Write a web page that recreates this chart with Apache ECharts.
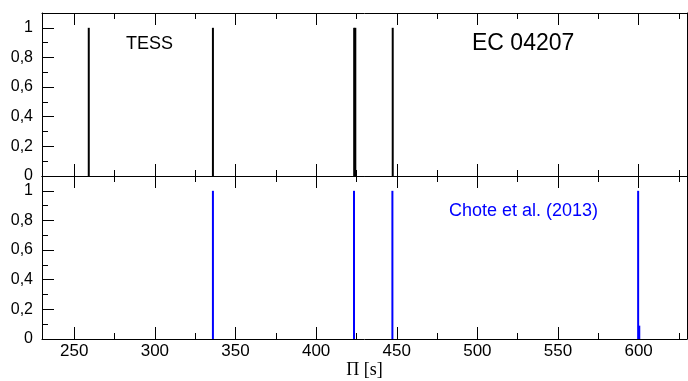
<!DOCTYPE html>
<html>
<head>
<meta charset="utf-8">
<script src="https://cdn.jsdelivr.net/npm/echarts@6/dist/echarts.min.js"></script>
<style>html,body{margin:0;padding:0;background:#fff}#c{width:688px;height:381px}</style>
</head>
<body>
<div id="c"></div>
<script>
// Data
var tessPeriods = [259, 336, 423.6, 424.3, 447.5];
var tessAmp = [1, 1, 1, 1, 1];
var chotePeriods = [336, 423.5, 447.3, 599.7, 600.4];
var choteAmp = [1, 1, 1, 1, 0.09];
var xTicks = [250, 300, 350, 400, 450, 500, 550, 600];
var xMinorTicks = [275, 325, 375, 425, 475, 525, 575, 625];
var yTicks = [0, 0.2, 0.4, 0.6, 0.8, 1];

function pairs(xs, ys) { return xs.map(function (x, i) { return [x, ys[i]]; }); }

var FONT = '"Liberation Sans", Arial, sans-serif';
var L = 42, R = 1, H = 163, T0 = 13, T1 = 176;

function xAx(grid, pos, values, len, main, labels) {
  return {
    type: 'value', gridIndex: grid, position: pos, min: 230, max: 630,
    axisLine: { show: main, onZero: false, lineStyle: { color: '#000', width: 1 } },
    axisTick: { show: true, inside: true, length: len, customValues: values, lineStyle: { color: '#000', width: 1 } },
    splitLine: { show: false },
    axisLabel: labels ? {
      show: true, margin: 4, fontSize: 17, color: '#000', fontFamily: FONT, customValues: values,
      formatter: function (v) { return String(v); }
    } : { show: false },
    name: labels ? 'Π [s]' : '', nameLocation: 'middle', nameGap: 18,
    nameTextStyle: { fontFamily: '"Liberation Serif", "Times New Roman", serif', fontSize: 18, color: '#000' }
  };
}
function yAx(grid) {
  return {
    type: 'value', gridIndex: grid, position: 'left', min: 0, max: 1.1, interval: 0.2,
    axisLine: { show: true, onZero: false, lineStyle: { color: '#000', width: 1 } },
    axisTick: { show: true, inside: true, length: 12, lineStyle: { color: '#000', width: 1 } },
    minorTick: { show: true, splitNumber: 2, length: 6, lineStyle: { color: '#000', width: 1 } },
    splitLine: { show: false },
    axisLabel: {
      margin: 9, fontSize: 16, color: '#000', fontFamily: FONT, showMaxLabel: false,
      formatter: function (v) {
        var r = Math.round(v * 10) / 10;
        for (var i = 0; i < yTicks.length; i++) if (Math.abs(yTicks[i] - r) < 1e-6) return String(yTicks[i]).replace('.', ',');
        return '';
      }
    }
  };
}
function yRight(grid) {
  return {
    type: 'value', gridIndex: grid, position: 'right', min: 0, max: 1.1,
    axisLine: { show: true, onZero: false, lineStyle: { color: '#000', width: 1 } },
    axisTick: { show: false }, axisLabel: { show: false }, splitLine: { show: false }
  };
}
function yHidden(grid) {
  return { type: 'value', gridIndex: grid, min: 0, max: 1.1, show: false };
}

var chart = echarts.init(document.getElementById('c'), null, { renderer: 'canvas' });
chart.setOption({
  animation: false,
  backgroundColor: '#fff',
  grid: [
    { left: L, right: R, top: T0, height: H },
    { left: L, right: R, top: T1, height: H },
    { left: L, right: R, top: T0, height: H },
    { left: L, right: R, top: T1, height: H }
  ],
  xAxis: [
    xAx(0, 'bottom', xTicks, 12, true, false),
    xAx(0, 'top', xTicks, 12, true, false),
    xAx(1, 'bottom', xTicks, 12, true, true),
    xAx(1, 'top', xTicks, 12, true, false),
    xAx(2, 'bottom', xMinorTicks, 6, false, false),
    xAx(2, 'top', xMinorTicks, 6, false, false),
    xAx(3, 'bottom', xMinorTicks, 6, false, false),
    xAx(3, 'top', xMinorTicks, 6, false, false)
  ],
  yAxis: [yAx(0), yAx(1), yRight(0), yRight(1), yHidden(2), yHidden(3)],
  series: [
    { type: 'bar', xAxisIndex: 0, yAxisIndex: 0, barWidth: 2, data: pairs(tessPeriods, tessAmp),
      itemStyle: { color: '#000' } },
    { type: 'bar', xAxisIndex: 2, yAxisIndex: 1, barWidth: 2, data: pairs(chotePeriods, choteAmp),
      itemStyle: { color: '#0000ff' } }
  ],
  graphic: [
    { type: 'text', left: 126, top: 35, style: { text: 'TESS', fontSize: 18, fontFamily: FONT, fill: '#000' } },
    { type: 'text', left: 472, top: 32, style: { text: 'EC 04207', fontSize: 23, fontFamily: FONT, fill: '#000' } },
    { type: 'text', left: 449, top: 202, style: { text: 'Chote et al. (2013)', fontSize: 18, fontFamily: FONT, fill: '#0000ff' } }
  ]
});
</script>
</body>
</html>
